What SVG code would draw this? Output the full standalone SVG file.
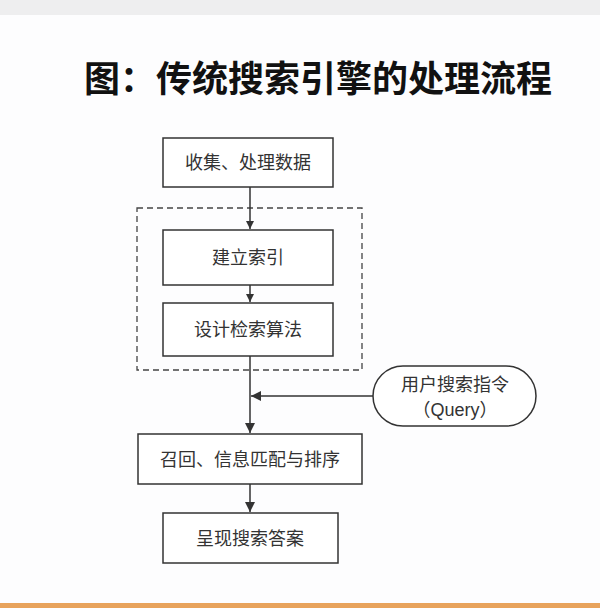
<svg xmlns="http://www.w3.org/2000/svg" width="600" height="608" viewBox="0 0 600 608">
<style>
.b{fill:#fff;stroke:#333;stroke-width:1.5}
.t{font-family:"Liberation Sans","Noto Sans CJK SC",sans-serif;font-size:18px;fill:#333;text-anchor:middle}
.c{stroke:#333;stroke-width:1.5;fill:none}
</style>
<defs><marker id="a" viewBox="0 0 10 10" refX="10" refY="5" markerWidth="8" markerHeight="8" orient="auto" markerUnits="userSpaceOnUse"><path d="M0,0L10,5L0,10z" fill="#333"/></marker>
<marker id="m" viewBox="0 0 10 10" refX="10" refY="5" markerWidth="10" markerHeight="10" orient="auto" markerUnits="userSpaceOnUse"><path d="M0,0L10,5L0,10z" fill="#333"/></marker></defs>
<rect width="600" height="608" fill="#fdfdfe"/>
<rect width="600" height="15" fill="#eeeeef"/>
<rect y="603" width="600" height="5" fill="#e8a35c"/>
<text x="318" y="92" font-family="'Noto Sans CJK SC',sans-serif" font-weight="bold" font-size="36" text-anchor="middle" fill="#111">图：传统搜索引擎的处理流程</text>
<g id="connectors">
<rect x="137" y="208" width="225" height="162" fill="none" stroke="#444" stroke-width="1.3" stroke-dasharray="6,4"/>
<line class="c" x1="250" y1="187" x2="250" y2="229" marker-end="url(#a)"/>
<line class="c" x1="250" y1="285" x2="250" y2="302" marker-end="url(#a)"/>
<line class="c" x1="250" y1="356" x2="250" y2="433" marker-end="url(#m)"/>
<line class="c" x1="373" y1="396" x2="251" y2="396" marker-end="url(#m)"/>
<line class="c" x1="250" y1="484" x2="250" y2="512" marker-end="url(#m)"/>
</g>
<g id="n1"><rect class="b" x="163" y="138" width="170" height="49"/><text class="t" x="248" y="169">收集、处理数据</text></g>
<g id="n2"><rect class="b" x="163" y="230" width="170" height="55"/><text class="t" x="248" y="264">建立索引</text></g>
<g id="n3"><rect class="b" x="163" y="303" width="170" height="53"/><text class="t" x="248" y="336">设计检索算法</text></g>
<g id="n4"><rect class="b" x="373" y="366" width="163" height="60" rx="30"/><text class="t" x="455" y="391">用户搜索指令</text><text class="t" x="455" y="416">（Query）</text></g>
<g id="n5"><rect class="b" x="138" y="434" width="224" height="50"/><text class="t" x="250" y="466">召回、信息匹配与排序</text></g>
<g id="n6"><rect class="b" x="163" y="513" width="175" height="50"/><text class="t" x="250" y="545">呈现搜索答案</text></g>
</svg>
